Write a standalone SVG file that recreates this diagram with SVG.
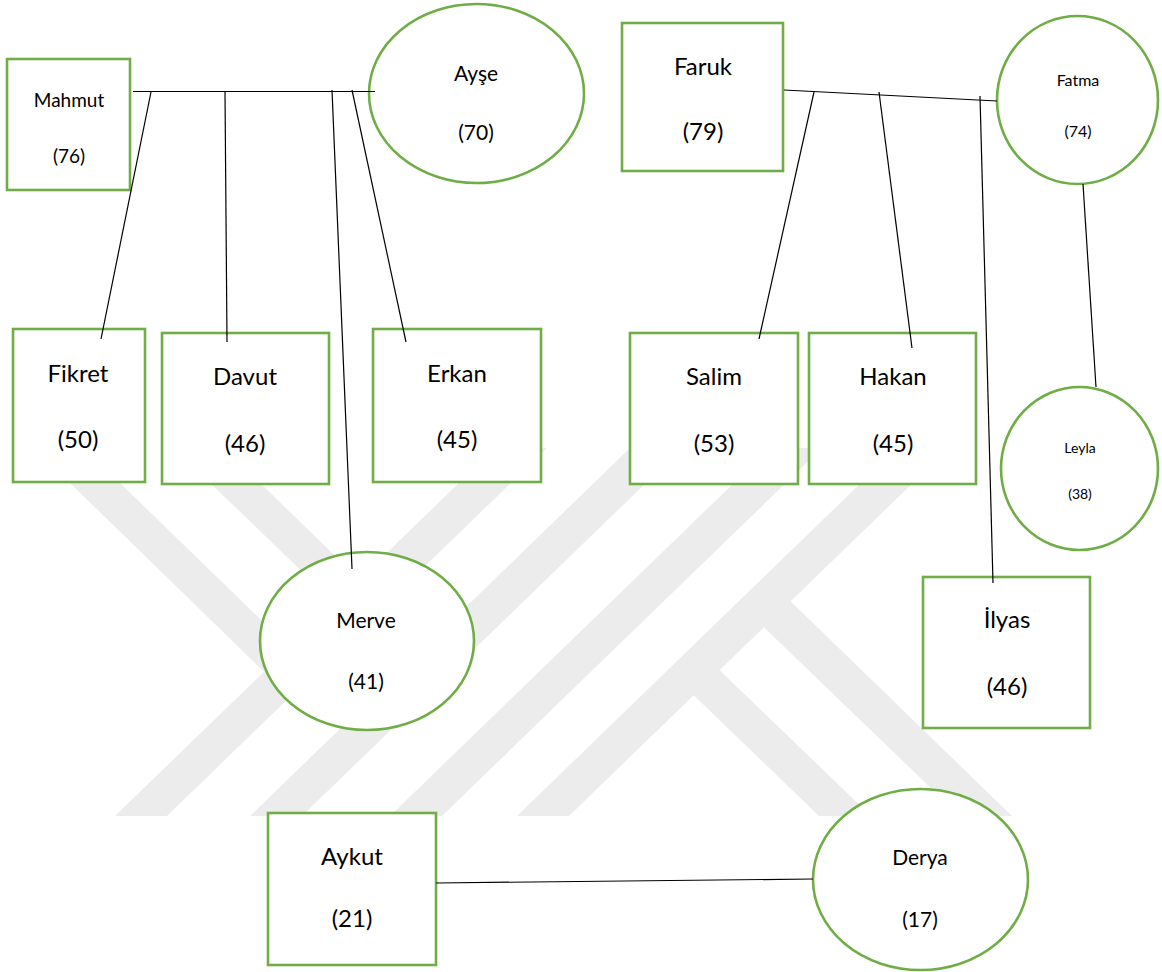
<svg xmlns="http://www.w3.org/2000/svg" width="1162" height="972" viewBox="0 0 1162 972">
<style>
.bg{fill:#ffffff}
.wm{fill:#ececec;stroke:none}
.node{fill:#ffffff;stroke:#70AD47;stroke-width:2.6}
.edge{stroke:#000000;stroke-width:1.2;fill:none}
text{font-family:Lato,"Open Sans","Liberation Sans",sans-serif;fill:#000000;text-anchor:middle}
.l{font-size:24px}
.m{font-size:21px}
.s{font-size:19px}
.xs{font-size:16px}
.xxs{font-size:14px}
</style>
<rect class="bg" x="0" y="0" width="1162" height="972"/>
<g id="watermark">
<polygon class="wm" points="115,816 167,816 547,448 495,448"/>
<polygon class="wm" points="250,816 302,816 682,448 630,448"/>
<polygon class="wm" points="390,816 442,816 822,448 770,448"/>
<polygon class="wm" points="517,816 569,816 949,448 897,448"/>
<polygon class="wm" points="34,448 84,448 288,646 290,697"/>
<polygon class="wm" points="174,448 224,448 427,645 430,695"/>
<polygon class="wm" points="681,683 707,658 871,816 819,816"/>
<polygon class="wm" points="751,615 778,589 1012,816 960,816"/>
</g>
<g id="nodes">
<g id="mahmut"><rect class="node" x="7" y="59" width="123" height="131"/><text class="s" x="69" y="107">Mahmut</text><text class="s" x="69" y="163">(76)</text></g>
<g id="ayse"><ellipse class="node" cx="476.5" cy="93.5" rx="107.5" ry="89.5"/><text class="m" x="476" y="81">Ayşe</text><text class="m" x="476" y="140">(70)</text></g>
<g id="faruk"><rect class="node" x="622" y="23" width="161" height="148"/><text class="l" x="703" y="75">Faruk</text><text class="l" x="703" y="140">(79)</text></g>
<g id="fatma"><ellipse class="node" cx="1077.5" cy="100" rx="80.5" ry="84"/><text class="xs" x="1078" y="86">Fatma</text><text class="xs" x="1078" y="137">(74)</text></g>
<g id="fikret"><rect class="node" x="13" y="329" width="132" height="153"/><text class="l" x="78" y="382">Fikret</text><text class="l" x="78" y="448">(50)</text></g>
<g id="davut"><rect class="node" x="162" y="333" width="167" height="151"/><text class="l" x="245" y="385">Davut</text><text class="l" x="245" y="452">(46)</text></g>
<g id="erkan"><rect class="node" x="373" y="329" width="168" height="153"/><text class="l" x="457" y="382">Erkan</text><text class="l" x="457" y="448">(45)</text></g>
<g id="merve"><ellipse class="node" cx="367" cy="641" rx="107" ry="89"/><text class="m" x="366" y="628">Merve</text><text class="m" x="366" y="689">(41)</text></g>
<g id="salim"><rect class="node" x="630" y="333" width="168" height="151"/><text class="l" x="714" y="385">Salim</text><text class="l" x="714" y="452">(53)</text></g>
<g id="hakan"><rect class="node" x="809" y="333" width="167" height="151"/><text class="l" x="893" y="385">Hakan</text><text class="l" x="893" y="452">(45)</text></g>
<g id="leyla"><ellipse class="node" cx="1079.5" cy="468.5" rx="78.5" ry="81.5"/><text class="xxs" x="1080" y="453">Leyla</text><text class="xxs" x="1080" y="499">(38)</text></g>
<g id="ilyas"><rect class="node" x="923" y="577" width="167" height="151"/><text class="l" x="1007" y="628">İlyas</text><text class="l" x="1007" y="695">(46)</text></g>
<g id="aykut"><rect class="node" x="268" y="813" width="168" height="152"/><text class="l" x="352" y="865">Aykut</text><text class="l" x="352" y="927">(21)</text></g>
<g id="derya"><ellipse class="node" cx="920.5" cy="879.5" rx="107.5" ry="90.5"/><text class="m" x="920" y="865">Derya</text><text class="m" x="920" y="927">(17)</text></g>
</g>
<g id="connectors">
<line class="edge" x1="133" y1="91.5" x2="375" y2="91.5"/>
<line class="edge" x1="151" y1="92" x2="101" y2="339"/>
<line class="edge" x1="225" y1="92" x2="227" y2="342"/>
<line class="edge" x1="332" y1="90" x2="352" y2="569"/>
<line class="edge" x1="352" y1="90" x2="406" y2="342"/>
<line class="edge" x1="784" y1="90" x2="997" y2="101"/>
<line class="edge" x1="814" y1="92" x2="759" y2="339"/>
<line class="edge" x1="879" y1="92" x2="912" y2="348"/>
<line class="edge" x1="980" y1="96" x2="993" y2="583"/>
<line class="edge" x1="1083" y1="184" x2="1096" y2="387"/>
<line class="edge" x1="436" y1="883" x2="813" y2="879"/>
</g>
</svg>
